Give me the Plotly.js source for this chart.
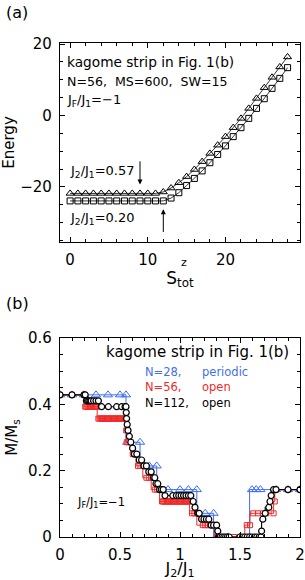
<!DOCTYPE html>
<html><head><meta charset="utf-8">
<script src="https://cdn.plot.ly/plotly-3.0.1.min.js"></script>
<style>html,body{margin:0;padding:0;background:#fff}#g{width:305px;height:580px}</style>
</head><body><div id="g"></div>
<script>
// ---------- panel (a): energy vs S^z_tot ----------
const S_tot = [0,1,2,3,4,5,6,7,8,9,10,11,12,13,14,15,16,17,18,19,20,21,22,23,24,25,26,27,28];
const E_J057 = [-21.8,-21.8,-21.8,-21.8,-21.8,-21.8,-21.8,-21.8,-21.8,-21.8,-21.8,-21.8,-21.4,-20.3,-18.8,-17.1,-15.1,-12.9,-10.6,-8.3,-5.9,-3.4,-0.8,2.0,4.8,7.8,10.7,13.6,16.4];
const E_J020 = [-23.9,-23.9,-23.9,-23.9,-23.9,-23.9,-23.9,-23.9,-23.9,-23.9,-23.9,-23.9,-23.9,-23.1,-21.6,-19.6,-17.6,-15.5,-13.2,-10.9,-8.5,-5.9,-3.4,-0.8,2.0,4.7,7.6,10.4,13.4];

// ---------- panel (b): M/Ms vs J2/J1 ----------
const J_N28 = [0,0.1,0.2,0.3,0.4,0.5,0.55, 0.56,0.667, 0.744,0.806, 0.9,1.0,1.07,1.14, 1.21,1.28, 1.3,1.4,1.5,1.58, 1.6,1.635,1.67,1.8,1.9,2.0];
const M_N28 = [0.4286,0.4286,0.4286,0.4286,0.4286,0.4286,0.4286, 0.2857,0.2857, 0.2143,0.2143, 0.1429,0.1429,0.1429,0.1429, 0.0714,0.0714, 0,0,0,0, 0.1429,0.1429,0.1429,0.1429,0.1429,0.1429];

const J_N56 = [0,0.1,0.2,
 0.21,0.22,0.23,0.24,0.25,0.26,0.27,0.28,0.29,0.30,0.31,
 0.32,0.33,0.34,0.35,0.36,0.37,0.38,0.39,0.40,0.41,0.42,0.43,0.44,0.45,0.46,0.47,0.48,0.49,0.50,0.51,0.52,0.53,0.54,
 0.552, 0.556,0.57,0.59, 0.606,0.62,0.635, 0.65,0.67,0.69, 0.72,0.74,0.76, 0.79,0.81,0.83,
 0.85,0.86,0.87,0.88,0.89,0.90,0.91,0.92,0.93,0.94,0.95,0.96,0.97,0.98,0.99,1.00,1.01,1.02,1.03,1.04,1.05,1.06,1.07,1.08,
 1.10,1.12,1.14, 1.19,1.21,1.23,1.25,1.27,1.29, 1.31,1.35,1.40,1.45,1.50,1.54,
 1.556,1.583, 1.61,1.65,1.69,1.72,1.78, 1.79, 1.80,1.90,2.00];
const M_N56 = [0.4286,0.4286,0.4286,
 0.3929,0.3929,0.3929,0.3929,0.3929,0.3929,0.3929,0.3929,0.3929,0.3929,0.3929,
 0.3571,0.3571,0.3571,0.3571,0.3571,0.3571,0.3571,0.3571,0.3571,0.3571,0.3571,0.3571,0.3571,0.3571,0.3571,0.3571,0.3571,0.3571,0.3571,0.3571,0.3571,0.3571,0.3571,
 0.3214, 0.2857,0.2857,0.2857, 0.25,0.25,0.25, 0.2143,0.2143,0.2143, 0.1786,0.1786,0.1786, 0.1429,0.1429,0.1429,
 0.1071,0.1071,0.1071,0.1071,0.1071,0.1071,0.1071,0.1071,0.1071,0.1071,0.1071,0.1071,0.1071,0.1071,0.1071,0.1071,0.1071,0.1071,0.1071,0.1071,0.1071,0.1071,0.1071,0.1071,
 0.0714,0.0714,0.0714, 0.0357,0.0357,0.0357,0.0357,0.0357,0.0357, 0,0,0,0,0,0,
 0.0357,0.0357, 0.0714,0.0714,0.0714,0.0714,0.0714, 0.1071, 0.1429,0.1429,0.1429];

const J_N112 = [0,0.1,0.2,0.21,
 0.22,0.23,0.24,0.25,0.26,0.28,0.30,0.32,
 0.347,0.403,0.472,0.514,0.542,0.55,
 0.552,0.555,0.56,0.567,0.578,0.59,0.605,0.62,0.64,0.66,0.68,0.70,0.72,0.74,0.76,0.78,0.79,0.80,0.815,
 0.83,0.845,0.86,
 0.875,0.94,0.97,0.99,1.01,1.03,1.05,1.07,1.09,
 1.11,1.125,1.15,1.16,1.18,1.20,1.22,1.24,1.26,1.28,1.305,1.315,
 1.32,1.335,1.35,1.365,1.38,1.395,1.41,1.50,1.52,1.54,1.56,1.58,1.60,1.62,1.64,1.66,1.675,
 1.68,1.69,1.71,1.74,1.75,1.76,1.78,1.80,1.90,2.00];
const M_N112 = [0.4286,0.4286,0.4286,0.4286,
 0.4107,0.4107,0.4107,0.4107,0.4107,0.4107,0.4107,0.4107,
 0.3929,0.3929,0.3929,0.3929,0.3929,0.3929,
 0.375,0.3571,0.3393,0.3214,0.3036,0.2857,0.2679,0.25,0.25,0.2321,0.2321,0.2143,0.2143,0.1964,0.1964,0.1786,0.1786,0.1607,0.1607,
 0.1429,0.1429,0.1429,
 0.125,0.125,0.125,0.125,0.125,0.125,0.125,0.125,0.125,
 0.1071,0.0893,0.0714,0.0714,0.0536,0.0536,0.0536,0.0536,0.0357,0.0357,0.0357,0.0179,
 0,0,0,0,0,0,0,0,0,0,0,0,0,0,0,0,0,
 0.0179,0.0536,0.0714,0.0893,0.1071,0.125,0.1429,0.1429,0.1429,0.1429];

const FONT = 'DejaVu Sans';
const W = 305, H = 580;
const px = (x) => x / W;
const py = (y) => 1 - y / H;

const traces = [
  {x:S_tot, y:E_J057, xaxis:'x', yaxis:'y', mode:'lines+markers', line:{color:'#000',width:0.8},
   marker:{symbol:'triangle-up-open', size:7, color:'#000', line:{width:1}}, showlegend:false},
  {x:S_tot, y:E_J020, xaxis:'x', yaxis:'y', mode:'lines+markers', line:{color:'#000',width:0.8},
   marker:{symbol:'square-open', size:6, color:'#000', line:{width:1}}, showlegend:false},
  {x:J_N28, y:M_N28, xaxis:'x2', yaxis:'y2', mode:'lines+markers', line:{color:'#3f6ff0',width:1,shape:'vh'},
   marker:{symbol:'triangle-up-open', size:8, color:'#3f6ff0', line:{width:1}}, showlegend:false},
  {x:J_N56, y:M_N56, xaxis:'x2', yaxis:'y2', mode:'lines+markers', line:{color:'#f02a2a',width:1,shape:'vh'},
   marker:{symbol:'square-open', size:5, color:'#f02a2a', line:{width:1}}, showlegend:false},
  {x:J_N112, y:M_N112, xaxis:'x2', yaxis:'y2', mode:'lines+markers', line:{color:'#000',width:1.1,shape:'vh'},
   marker:{symbol:'circle', size:6, color:'#fff', line:{color:'#000',width:1.2}}, showlegend:false}
];

const axBase = {showline:true, linecolor:'#000', linewidth:1.2, mirror:'allticks', ticks:'inside',
  ticklen:5, tickwidth:1, tickcolor:'#000', showgrid:false, zeroline:false,
  tickfont:{family:FONT, size:15, color:'#000'}, ticklabelstandoff:4};

const layout = {
  width:W, height:H, margin:{l:0,r:0,t:0,b:0}, paper_bgcolor:'#fff', plot_bgcolor:'#fff',
  font:{family:FONT, color:'#000'},
  xaxis: Object.assign({}, axBase, {domain:[px(60),px(300)], anchor:'y', range:[-1.3,29.6],
    tickvals:[0,10,20], minor:{dtick:2, tick0:0, ticks:'inside', ticklen:3, tickcolor:'#000'},
    title:{text:'S<sub>tot</sub>', font:{family:FONT,size:17,color:'#000'}, standoff:3}}),
  yaxis: Object.assign({}, axBase, {domain:[py(242),py(43)], anchor:'x', range:[-35.4,20.3],
    tickvals:[-20,0,20], minor:{dtick:5, tick0:0, ticks:'inside', ticklen:3, tickcolor:'#000'},
    title:{text:'Energy', font:{family:FONT,size:15,color:'#000'}, standoff:6}}),
  xaxis2: Object.assign({}, axBase, {domain:[px(60),px(300)], anchor:'y2', range:[0,2],
    tickvals:[0,0.5,1,1.5,2], ticktext:['0','0.5','1','1.5','2'],
    minor:{dtick:0.1, tick0:0, ticks:'inside', ticklen:3, tickcolor:'#000'},
    title:{text:'J<sub>2</sub>/J<sub>1</sub>', font:{family:FONT,size:16,color:'#000'}, standoff:7}}),
  yaxis2: Object.assign({}, axBase, {domain:[py(537),py(338)], anchor:'x2', range:[0,0.6],
    tickvals:[0,0.2,0.4,0.6], ticktext:['0','0.2','0.4','0.6'],
    minor:{dtick:0.05, tick0:0, ticks:'inside', ticklen:3, tickcolor:'#000'},
    title:{text:'M/M<sub>s</sub>', font:{family:FONT,size:15,color:'#000'}, standoff:6}}),
  annotations: [
    {text:'(a)', x:px(4), y:py(13), xref:'paper', yref:'paper', xanchor:'left', yanchor:'middle', showarrow:false, font:{family:FONT,size:16}},
    {text:'(b)', x:px(4), y:py(303), xref:'paper', yref:'paper', xanchor:'left', yanchor:'middle', showarrow:false, font:{family:FONT,size:16}},
    {text:'z', x:px(184), y:py(262), xref:'paper', yref:'paper', xanchor:'center', yanchor:'middle', showarrow:false, font:{family:FONT,size:11}},
    {text:'kagome strip in Fig. 1(b)', x:px(65), y:py(62), xref:'paper', yref:'paper', xanchor:'left', yanchor:'middle', showarrow:false, font:{family:FONT,size:13.7}},
    {text:'N=56,\u00a0\u00a0MS=600,\u00a0\u00a0SW=15', x:px(65), y:py(82), xref:'paper', yref:'paper', xanchor:'left', yanchor:'middle', showarrow:false, font:{family:FONT,size:12.6}},
    {text:'J<sub>F</sub>/J<sub>1</sub>=\u22121', x:px(65), y:py(101), xref:'paper', yref:'paper', xanchor:'left', yanchor:'middle', showarrow:false, font:{family:FONT,size:13}},
    {text:'J<sub>2</sub>/J<sub>1</sub>=0.57', x:px(68), y:py(172), xref:'paper', yref:'paper', xanchor:'left', yanchor:'middle', showarrow:false, font:{family:FONT,size:13}},
    {text:'J<sub>2</sub>/J<sub>1</sub>=0.20', x:px(68), y:py(219), xref:'paper', yref:'paper', xanchor:'left', yanchor:'middle', showarrow:false, font:{family:FONT,size:13}},
    {text:'', x:9, y:-19.3, ax:9, ay:-12.4, xref:'x', yref:'y', axref:'x', ayref:'y', showarrow:true, arrowhead:2, arrowsize:1, arrowwidth:1, arrowcolor:'#000'},
    {text:'', x:12, y:-26.2, ax:12, ay:-33.0, xref:'x', yref:'y', axref:'x', ayref:'y', showarrow:true, arrowhead:2, arrowsize:1, arrowwidth:1, arrowcolor:'#000'},
    {text:'kagome strip in Fig. 1(b)', x:px(291), y:py(352), xref:'paper', yref:'paper', xanchor:'right', yanchor:'middle', showarrow:false, font:{family:FONT,size:15}},
    {text:'N=28,', x:px(143), y:py(372), xref:'paper', yref:'paper', xanchor:'left', yanchor:'middle', showarrow:false, font:{family:FONT,size:11.5,color:'#3f6ff0'}},
    {text:'periodic', x:px(200), y:py(372), xref:'paper', yref:'paper', xanchor:'left', yanchor:'middle', showarrow:false, font:{family:FONT,size:11.5,color:'#3f6ff0'}},
    {text:'N=56,', x:px(143), y:py(387), xref:'paper', yref:'paper', xanchor:'left', yanchor:'middle', showarrow:false, font:{family:FONT,size:11.5,color:'#f02a2a'}},
    {text:'open', x:px(200), y:py(387), xref:'paper', yref:'paper', xanchor:'left', yanchor:'middle', showarrow:false, font:{family:FONT,size:11.5,color:'#f02a2a'}},
    {text:'N=112,', x:px(143), y:py(403), xref:'paper', yref:'paper', xanchor:'left', yanchor:'middle', showarrow:false, font:{family:FONT,size:11.5,color:'#000'}},
    {text:'open', x:px(200), y:py(403), xref:'paper', yref:'paper', xanchor:'left', yanchor:'middle', showarrow:false, font:{family:FONT,size:11.5,color:'#000'}},
    {text:'J<sub>F</sub>/J<sub>1</sub>=\u22121', x:px(75), y:py(502), xref:'paper', yref:'paper', xanchor:'left', yanchor:'middle', showarrow:false, font:{family:FONT,size:11.5}}
  ]
};

Plotly.newPlot('g', traces, layout, {staticPlot:true, displayModeBar:false});
</script></body></html>
